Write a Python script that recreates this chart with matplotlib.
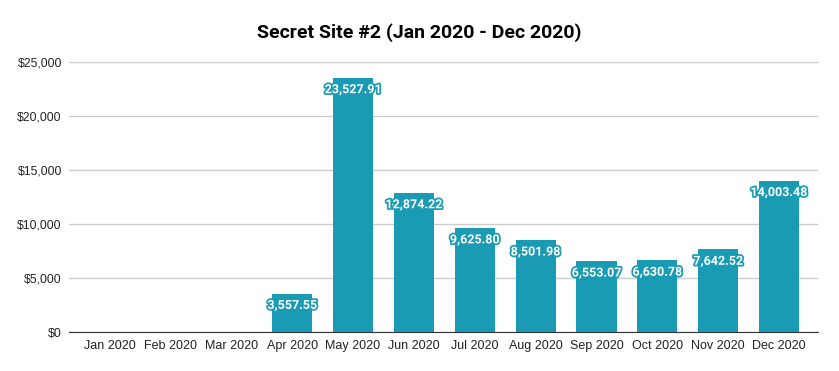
import matplotlib
matplotlib.use("Agg")
import matplotlib.pyplot as plt
import matplotlib.patheffects as pe

months = ["Jan 2020", "Feb 2020", "Mar 2020", "Apr 2020", "May 2020", "Jun 2020",
          "Jul 2020", "Aug 2020", "Sep 2020", "Oct 2020", "Nov 2020", "Dec 2020"]
revenue = [0, 0, 0, 3557.55, 23527.91, 12874.22, 9625.80, 8501.98,
           6553.07, 6630.78, 7642.52, 14003.48]
yticks = [0, 5000, 10000, 15000, 20000, 25000]

bar_color = "#199bb4"

fig = plt.figure(figsize=(8.39, 3.71), dpi=100)
ax = fig.add_axes([0.082, 0.105, 0.893, 0.728])

x = range(len(months))
ax.bar(x, revenue, width=0.66, color=bar_color, zorder=2)

for i, v in enumerate(revenue):
    if v <= 0:
        continue
    ax.annotate(f"{v:,.2f}", (i, v), xytext=(0, -8.5), textcoords="offset points",
                ha="center", va="center", fontsize=9, fontweight="bold",
                family=["Roboto", "DejaVu Sans"], color="white", zorder=4,
                path_effects=[pe.withStroke(linewidth=2.5, foreground=bar_color)])

ax.set_xlim(-0.67, len(months) - 1 + 0.64)
ax.set_ylim(0, 25000)
ax.set_yticks(yticks)
ax.set_yticklabels([f"${t:,}" for t in yticks])
ax.set_xticks(list(x))
ax.set_xticklabels(months)
ax.tick_params(axis="x", length=0, labelsize=9, colors="#222222", pad=6)
ax.tick_params(axis="y", length=0, labelsize=8.8, colors="#222222", pad=5)
for lab in ax.get_xticklabels() + ax.get_yticklabels():
    lab.set_family(["Liberation Sans", "DejaVu Sans"])

ax.grid(axis="y", color="#cccccc", linewidth=1, zorder=0)
for side in ["top", "right", "left"]:
    ax.spines[side].set_visible(False)
ax.spines["bottom"].set_color("#333333")
ax.spines["bottom"].set_zorder(3)

fig.text(0.5, 0.912, "Secret Site #2 (Jan 2020 - Dec 2020)", ha="center", va="center",
         fontsize=14, fontweight="bold", family=["Roboto", "DejaVu Sans"], color="#000000")

fig.savefig("out.png", dpi=100)
